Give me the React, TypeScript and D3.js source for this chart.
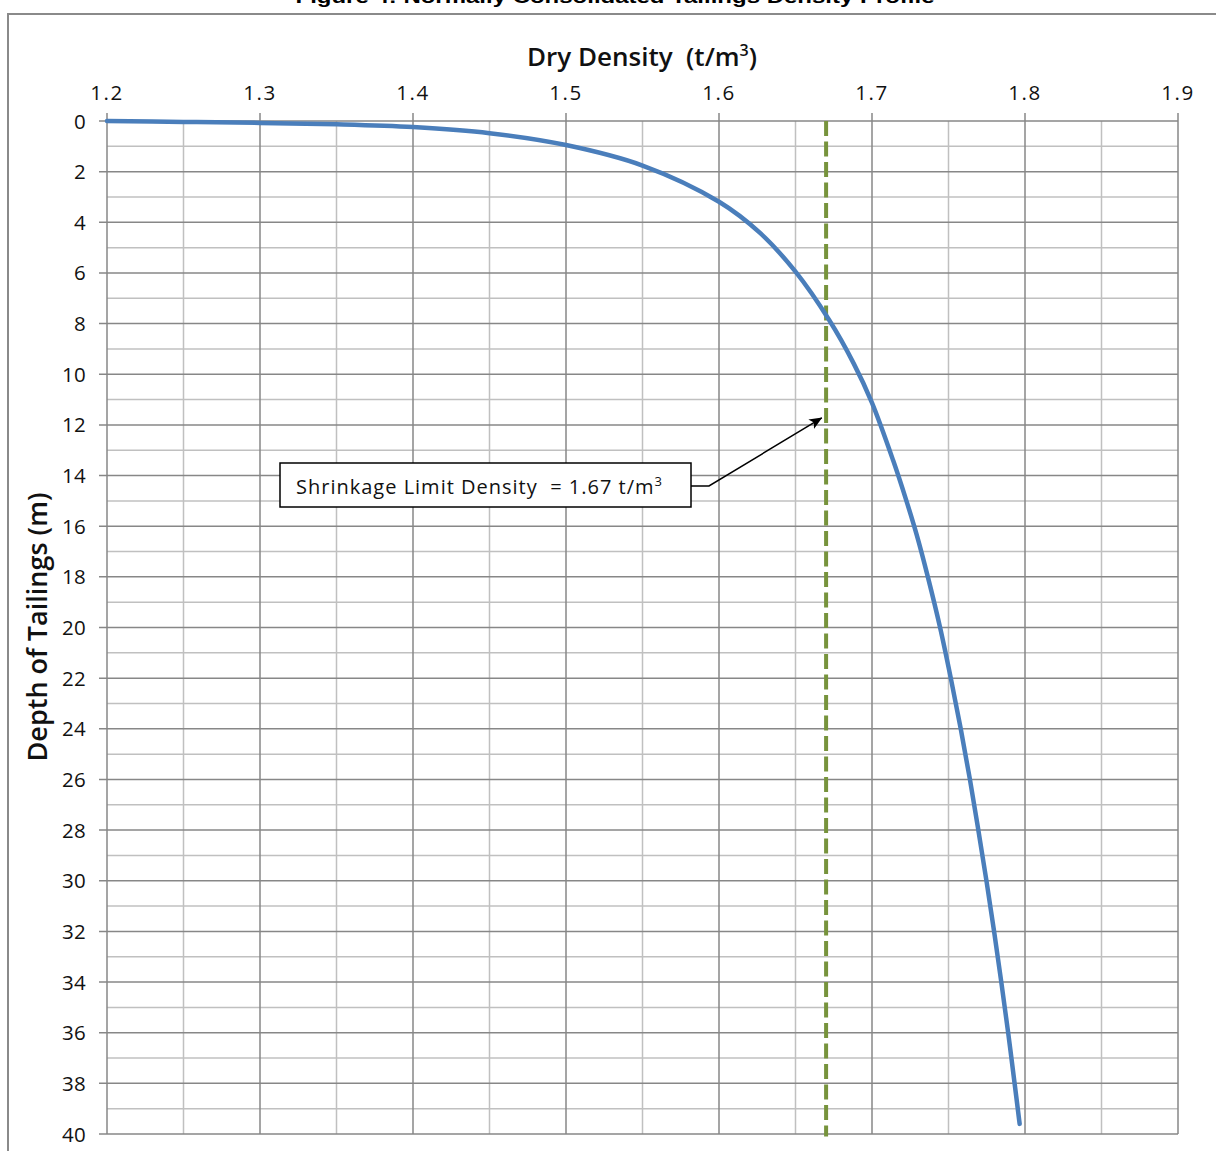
import React from 'react';
import * as d3 from 'd3';

// Axis ticks
const densityMajor = [1.2, 1.3, 1.4, 1.5, 1.6, 1.7, 1.8, 1.9];
const densityMinor = [1.25, 1.35, 1.45, 1.55, 1.65, 1.75, 1.85];
const depthMajor = [0, 2, 4, 6, 8, 10, 12, 14, 16, 18, 20, 22, 24, 26, 28, 30, 32, 34, 36, 38, 40];
const depthMinor = [1, 3, 5, 7, 9, 11, 13, 15, 17, 19, 21, 23, 25, 27, 29, 31, 33, 35, 37, 39];

// Normally consolidated dry density profile (t/m3) against depth (m)
const profileDensity = [
  1.2, 1.25, 1.3, 1.35, 1.4, 1.45, 1.5, 1.55, 1.6, 1.627, 1.65, 1.672, 1.688, 1.6998,
  1.7138, 1.7225, 1.7295, 1.7365, 1.7445, 1.7515, 1.758, 1.764, 1.7695, 1.7748, 1.7798,
  1.7845, 1.789, 1.7932, 1.7965,
];
const profileDepth = [
  0, 0.035, 0.075, 0.13, 0.24, 0.48, 0.95, 1.76, 3.19, 4.43, 5.95, 7.86, 9.57, 11.1,
  13.4, 15, 16.4, 18, 20, 22, 24, 26, 28, 30, 32,
  34, 36, 38, 39.6,
];

const shrinkageLimit = 1.67;
const shrinkageDepth = [0, 40.1];

const W = 1216;
const H = 1151;

export default function App() {
  const x = d3.scaleLinear().domain([1.2, 1.9]).range([107, 1178]);
  const y = d3.scaleLinear().domain([0, 40]).range([121, 1134]);

  const pts: [number, number][] = profileDensity.map((d, i) => [d, profileDepth[i]]);
  const line = d3
    .line<[number, number]>()
    .x((d) => x(d[0]))
    .y((d) => y(d[1]))
    .curve(d3.curveCatmullRom.alpha(0.5));

  const major = '#878787';
  const minor = '#c0c0c0';
  const tickFont = "'Open Sans', sans-serif";

  const tipX = x(1.6672);
  const tipY = y(11.72);

  return (
    <svg
      width={W}
      height={H}
      style={{ position: 'absolute', left: 0, top: 0, background: '#fff' }}
    >
      <defs>
        <marker
          id="arrowHead"
          viewBox="0 0 12 10"
          refX={11.5}
          refY={5}
          markerWidth={13}
          markerHeight={11}
          markerUnits="userSpaceOnUse"
          orient="auto"
        >
          <path d="M0,0 L12,5 L0,10 L3,5 Z" fill="#000" />
        </marker>
      </defs>
      <rect x={0} y={0} width={W} height={H} fill="#fff" />

      {/* chart title (cropped at the top) */}
      <text
        x={615}
        y={3}
        textAnchor="middle"
        fontFamily="'Liberation Sans', Arial, sans-serif"
        fontWeight="bold"
        fontSize={19}
        textLength={639}
        lengthAdjust="spacingAndGlyphs"
      >
        Figure 4: Normally Consolidated Tailings Density Profile
      </text>

      {/* chart frame */}
      <rect x={8} y={14} width={1240} height={1200} fill="none" stroke="#8a8a8a" strokeWidth={2} />

      {/* minor gridlines */}
      {densityMinor.map((v) => (
        <line key={'vx' + v} x1={x(v)} x2={x(v)} y1={y(0)} y2={y(40)} stroke={minor} strokeWidth={1.5} />
      ))}
      {depthMinor.map((v) => (
        <line key={'hy' + v} x1={x(1.2)} x2={x(1.9)} y1={y(v)} y2={y(v)} stroke={minor} strokeWidth={1.5} />
      ))}
      {/* major gridlines */}
      {densityMajor.map((v) => (
        <line key={'VX' + v} x1={x(v)} x2={x(v)} y1={y(0) - 8} y2={y(40)} stroke={major} strokeWidth={1.5} />
      ))}
      {depthMajor.map((v) => (
        <line key={'HY' + v} x1={x(1.2) - 8} x2={x(1.9)} y1={y(v)} y2={y(v)} stroke={major} strokeWidth={1.5} />
      ))}

      {/* tick labels */}
      {densityMajor.map((v) => (
        <text
          key={'lx' + v}
          x={x(v)}
          y={100}
          textAnchor="middle"
          fontFamily={tickFont}
          fontSize={20.5}
          letterSpacing={1.5}
          fill="#111"
        >
          {v.toFixed(1)}
        </text>
      ))}
      {depthMajor.map((v) => (
        <text
          key={'ly' + v}
          x={86}
          y={y(v) + 7.5}
          textAnchor="end"
          fontFamily={tickFont}
          fontSize={20.5}
          letterSpacing={0.3}
          fill="#111"
        >
          {v}
        </text>
      ))}

      {/* axis titles */}
      <text
        x={642}
        y={66}
        textAnchor="middle"
        fontFamily={tickFont}
        fontWeight={600}
        fontSize={26}
        fill="#111"
      >
        {'Dry Density\u00a0 (t/m'}
        <tspan fontSize={16} dy={-10}>3</tspan>
        <tspan dy={10}>)</tspan>
      </text>
      <text
        transform={`translate(47,627) rotate(-90)`}
        textAnchor="middle"
        fontFamily={tickFont}
        fontWeight={600}
        fontSize={27}
        fill="#111"
      >
        Depth of Tailings (m)
      </text>

      {/* shrinkage limit */}
      <line
        x1={x(shrinkageLimit)}
        x2={x(shrinkageLimit)}
        y1={y(shrinkageDepth[0])}
        y2={y(shrinkageDepth[1])}
        stroke="#77933c"
        strokeWidth={4}
        strokeDasharray="15 5.5"
      />

      {/* density profile */}
      <path d={line(pts) ?? ''} fill="none" stroke="#4a7ebb" strokeWidth={4.5} strokeLinecap="round" />

      {/* annotation */}
      <polyline
        points={`691,486 709,486 ${tipX},${tipY}`}
        fill="none"
        stroke="#000"
        strokeWidth={1.5}
        markerEnd="url(#arrowHead)"
      />
      <rect x={280} y={463} width={411} height={44} fill="#fff" stroke="#000" strokeWidth={1.5} />
      <text x={296} y={494} fontFamily={tickFont} fontSize={20} letterSpacing={1} fill="#111">
        {'Shrinkage Limit Density\u00a0 = 1.67 t/m'}
        <tspan fontSize={13} dy={-8}>3</tspan>
      </text>
    </svg>
  );
}
